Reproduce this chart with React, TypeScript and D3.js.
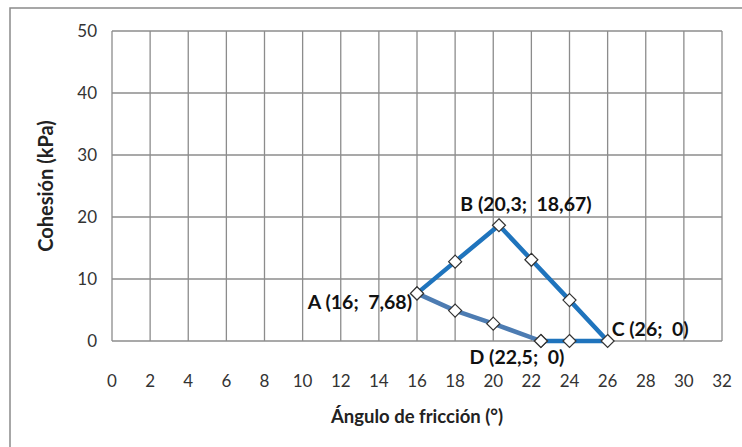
import React from 'react'
import * as d3 from 'd3'

interface Pt {
    x: number
    y: number
}

// upper envelope A -> B -> C, then along the axis back to D
const upperX: number[] = [16, 18, 20.3, 22, 24, 26, 24, 22.5]
const upperY: number[] = [7.68, 12.8, 18.67, 13.1, 6.6, 0, 0, 0]

// lower line A -> D
const lowerX: number[] = [16, 18, 20, 22.5]
const lowerY: number[] = [7.68, 4.9, 2.8, 0]

const xTicks: number[] = d3.range(0, 33, 2)
const yTicks: number[] = [0, 10, 20, 30, 40, 50]

const pointLabels = [
    { text: 'A (16;  7,68)', x: 16, y: 7.68, dx: -5, dy: 16, anchor: 'end' },
    { text: 'B (20,3;  18,67)', x: 20.3, y: 18.67, dx: 27, dy: -14, anchor: 'middle' },
    { text: 'C (26;  0)', x: 26, y: 0, dx: 4, dy: -5, anchor: 'start' },
    { text: 'D (22,5;  0)', x: 22.5, y: 0, dx: -24, dy: 23, anchor: 'middle' },
]

const width = 742
const height = 447
const plot = { left: 112, right: 722, top: 31, bottom: 341 }
const font = 'Lato, "Open Sans", sans-serif'

const toPoints = (xs: number[], ys: number[]): Pt[] => xs.map((x, i) => ({ x: x, y: ys[i] }))

export default function App() {
    const x = d3.scaleLinear().domain([0, 32]).range([plot.left, plot.right])
    const y = d3.scaleLinear().domain([0, 50]).range([plot.bottom, plot.top])

    const line = d3.line<Pt>().x(d => x(d.x)).y(d => y(d.y))

    const upper = toPoints(upperX, upperY)
    const lower = toPoints(lowerX, lowerY)

    const diamond = (p: Pt, key: string) => {
        const cx = x(p.x)
        const cy = y(p.y)
        const r = 6.5
        return <path key={key}
                     d={`M${cx},${cy - r}L${cx + r},${cy}L${cx},${cy + r}L${cx - r},${cy}Z`}
                     fill="white" stroke="#333" strokeWidth={1.2}/>
    }

    return (
        <svg width={width} height={height} style={{ position: 'absolute', left: 0, top: 0, background: 'white' }}>
            {/* outer chart frame */}
            <rect x={10} y={8} width={760} height={460} fill="white" stroke="#8a8a8a" strokeWidth={1.5}/>

            {/* grid */}
            {xTicks.map(t => (
                <line key={`gx-${t}`} x1={x(t)} x2={x(t)} y1={plot.top} y2={plot.bottom} stroke="#8c8c8c" strokeWidth={1.3}/>
            ))}
            {yTicks.map(t => (
                <line key={`gy-${t}`} x1={plot.left} x2={plot.right} y1={y(t)} y2={y(t)} stroke="#8c8c8c" strokeWidth={1.3}/>
            ))}

            {/* tick labels */}
            {xTicks.map(t => (
                <text key={`tx-${t}`} x={x(t)} y={387} textAnchor="middle" fontFamily={font} fontSize={17} fill="#333">{t}</text>
            ))}
            {yTicks.map(t => (
                <text key={`ty-${t}`} x={97} y={y(t) + 6} textAnchor="end" fontFamily={font} fontSize={17} fill="#333">{t}</text>
            ))}

            {/* axis titles */}
            <text x={417} y={423} textAnchor="middle" fontFamily={font} fontSize={18.5} fontWeight="bold" fill="#222">Ángulo de fricción (°)</text>
            <text transform={`translate(53, 186) rotate(-90)`} textAnchor="middle" fontFamily={font} fontSize={20} fontWeight="bold" fill="#222">Cohesión (kPa)</text>

            {/* series */}
            <path d={line(lower) || ''} fill="none" stroke="#4d7cb2" strokeWidth={4.5} strokeLinejoin="round"/>
            <path d={line(upper) || ''} fill="none" stroke="#1f74bd" strokeWidth={4.5} strokeLinejoin="round"/>
            {lower.map((p, i) => diamond(p, `dl-${i}`))}
            {upper.map((p, i) => diamond(p, `du-${i}`))}

            {/* point labels */}
            {pointLabels.map(l => (
                <text key={l.text} x={x(l.x) + l.dx} y={y(l.y) + l.dy} textAnchor={l.anchor}
                      style={{ whiteSpace: 'pre' }}
                      fontFamily={font} fontSize={19.5} fontWeight="bold" fill="#111">{l.text}</text>
            ))}
        </svg>
    )
}
